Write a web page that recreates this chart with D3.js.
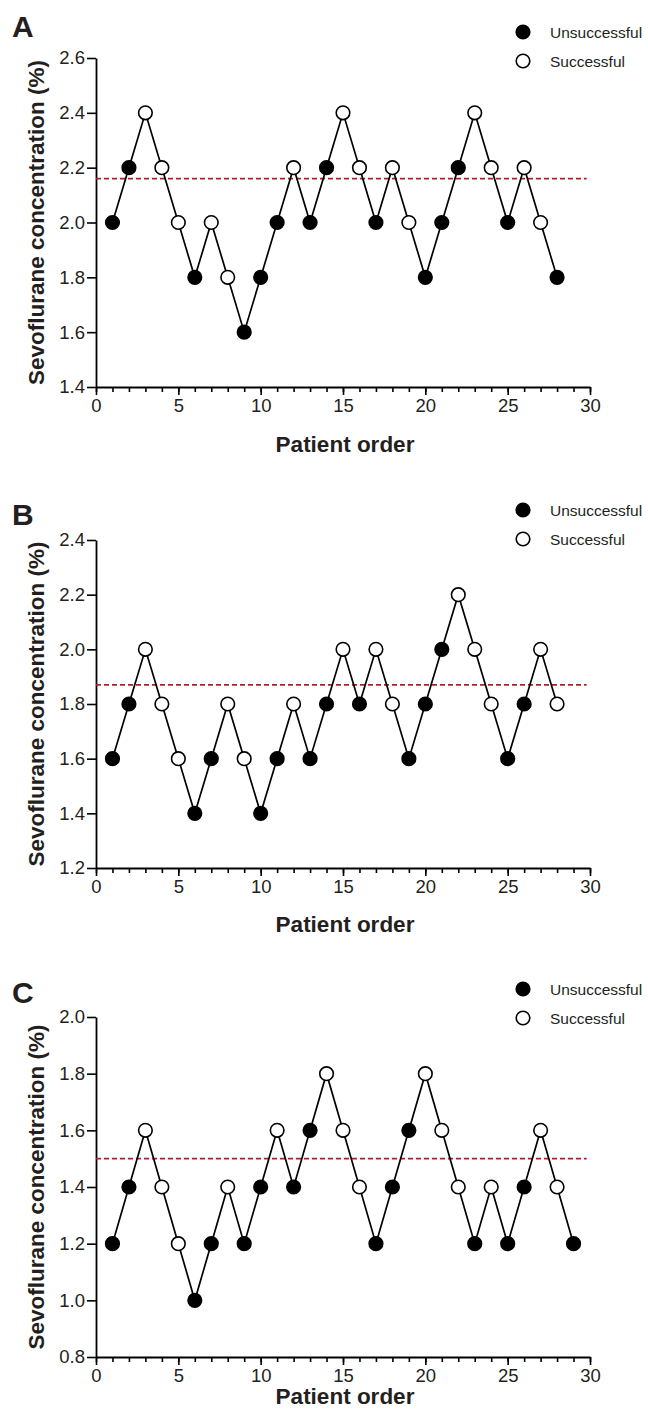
<!DOCTYPE html>
<html>
<head>
<meta charset="utf-8">
<script src="https://cdn.jsdelivr.net/npm/d3@7"></script>
<style>
  body { margin: 0; background: #fff; }
  text { font-family: Arial, "Liberation Sans", sans-serif; fill: #231f20; }
</style>
</head>
<body>
<svg width="648" height="1412"></svg>
<script>
// concentration per patient (%) and outcome (1 = successful, 0 = unsuccessful)
var concA = [2.0,2.2,2.4,2.2,2.0,1.8,2.0,1.8,1.6,1.8,2.0,2.2,2.0,2.2,2.4,2.2,2.0,2.2,2.0,1.8,2.0,2.2,2.4,2.2,2.0,2.2,2.0,1.8];
var outcomeA = [0,0,1,1,1,0,1,1,0,0,0,1,0,0,1,1,0,1,1,0,0,0,1,1,0,1,1,0];

var concB = [1.6,1.8,2.0,1.8,1.6,1.4,1.6,1.8,1.6,1.4,1.6,1.8,1.6,1.8,2.0,1.8,2.0,1.8,1.6,1.8,2.0,2.2,2.0,1.8,1.6,1.8,2.0,1.8];
var outcomeB = [0,0,1,1,1,0,0,1,1,0,0,1,0,0,1,0,1,1,0,0,0,1,1,1,0,0,1,1];

var concC = [1.2,1.4,1.6,1.4,1.2,1.0,1.2,1.4,1.2,1.4,1.6,1.4,1.6,1.8,1.6,1.4,1.2,1.4,1.6,1.8,1.6,1.4,1.2,1.4,1.2,1.4,1.6,1.4,1.2];
var outcomeC = [0,0,1,1,1,0,0,1,0,0,1,0,0,1,1,1,0,0,0,1,1,1,0,1,0,0,1,1,0];

var meanA = 2.16, meanB = 1.87, meanC = 1.5;

var yDomainA = [1.4, 2.6], yDomainB = [1.2, 2.4], yDomainC = [0.8, 2.0];
var xTicks = [0, 5, 10, 15, 20, 25, 30];
var legendLabels = ["Unsuccessful", "Successful"];

var svg = d3.select("svg");

var panels = [
  {letter: "A", conc: concA, outcome: outcomeA, mean: meanA, yDomain: yDomainA, top: 58, bottom: 387, letterY: 37, legendY: 32, titleY: 452},
  {letter: "B", conc: concB, outcome: outcomeB, mean: meanB, yDomain: yDomainB, top: 540, bottom: 868, letterY: 525, legendY: 510, titleY: 932},
  {letter: "C", conc: concC, outcome: outcomeC, mean: meanC, yDomain: yDomainC, top: 1017, bottom: 1357, letterY: 1003, legendY: 989, titleY: 1404}
];

var left = 96, right = 590;
var tickFont = 18.5;

function styleAxis(a) {
  a.attr("font-size", tickFont).attr("font-family", "Arial, 'Liberation Sans', sans-serif");
  a.select(".domain").attr("stroke", "#000").attr("stroke-width", 1.8);
  a.selectAll("line").attr("stroke", "#000").attr("stroke-width", 1.6);
  a.selectAll("text").attr("font-size", tickFont).attr("fill", "#231f20");
}

panels.forEach(function(p) {
  var g = svg.append("g");

  var x = d3.scaleLinear().domain([0, 30]).range([left, right]);
  var y = d3.scaleLinear().domain(p.yDomain).range([p.bottom, p.top]);

  var pts = p.conc.map(function(v, i) { return {order: i + 1, value: v, ok: p.outcome[i]}; });

  // minor x ticks
  var xMinor = d3.axisBottom(x).tickValues(d3.range(0, 31)).tickSize(5).tickFormat("");
  g.append("g")
    .attr("transform", "translate(0," + p.bottom + ")")
    .call(xMinor)
    .call(function(a) { a.select(".domain").remove(); a.selectAll("line").attr("stroke", "#000").attr("stroke-width", 1.6); });

  var xAxis = d3.axisBottom(x).tickValues(xTicks).tickSize(8).tickSizeOuter(0).tickPadding(4);
  g.append("g")
    .attr("transform", "translate(0," + p.bottom + ")")
    .call(xAxis)
    .call(styleAxis);

  var yAxis = d3.axisLeft(y).ticks(6).tickFormat(d3.format(".1f")).tickSize(9).tickSizeOuter(0).tickPadding(2);
  g.append("g")
    .attr("transform", "translate(" + left + ",0)")
    .call(yAxis)
    .call(styleAxis);

  // dashed mean line
  g.append("line")
    .attr("x1", x(0)).attr("x2", x(29.8))
    .attr("y1", y(p.mean)).attr("y2", y(p.mean))
    .attr("stroke", "#a8232b")
    .attr("stroke-width", 1.8)
    .attr("stroke-dasharray", "5,3");

  var line = d3.line().x(function(d) { return x(d.order); }).y(function(d) { return y(d.value); });
  g.append("path")
    .datum(pts)
    .attr("d", line)
    .attr("fill", "none")
    .attr("stroke", "#000")
    .attr("stroke-width", 1.7);

  g.selectAll("circle.pt")
    .data(pts)
    .enter()
    .append("circle")
    .attr("class", "pt")
    .attr("cx", function(d) { return x(d.order); })
    .attr("cy", function(d) { return y(d.value); })
    .attr("r", 6.8)
    .attr("fill", function(d) { return d.ok ? "#fff" : "#000"; })
    .attr("stroke", "#000")
    .attr("stroke-width", 1.6);

  // panel letter
  g.append("text")
    .attr("x", 12).attr("y", p.letterY)
    .attr("font-size", 30).attr("font-weight", "bold")
    .text(p.letter);

  // y label
  g.append("text")
    .attr("transform", "translate(44," + ((p.top + p.bottom) / 2) + ") rotate(-90)")
    .attr("text-anchor", "middle")
    .attr("font-size", 22.5).attr("font-weight", "bold")
    .text("Sevoflurane concentration (%)");

  // x label
  g.append("text")
    .attr("x", (left + right) / 2 + 2).attr("y", p.titleY)
    .attr("text-anchor", "middle")
    .attr("font-size", 22.5).attr("font-weight", "bold")
    .text("Patient order");

  // legend
  var leg = g.selectAll("g.leg")
    .data(legendLabels)
    .enter()
    .append("g")
    .attr("class", "leg")
    .attr("transform", function(d, i) { return "translate(523," + (p.legendY + i * 29) + ")"; });
  leg.append("circle")
    .attr("r", 6.8)
    .attr("fill", function(d, i) { return i ? "#fff" : "#000"; })
    .attr("stroke", "#000")
    .attr("stroke-width", 1.6);
  leg.append("text")
    .attr("x", 27).attr("y", 5.5)
    .attr("font-size", 15.5)
    .text(function(d) { return d; });
});
</script>
</body>
</html>
